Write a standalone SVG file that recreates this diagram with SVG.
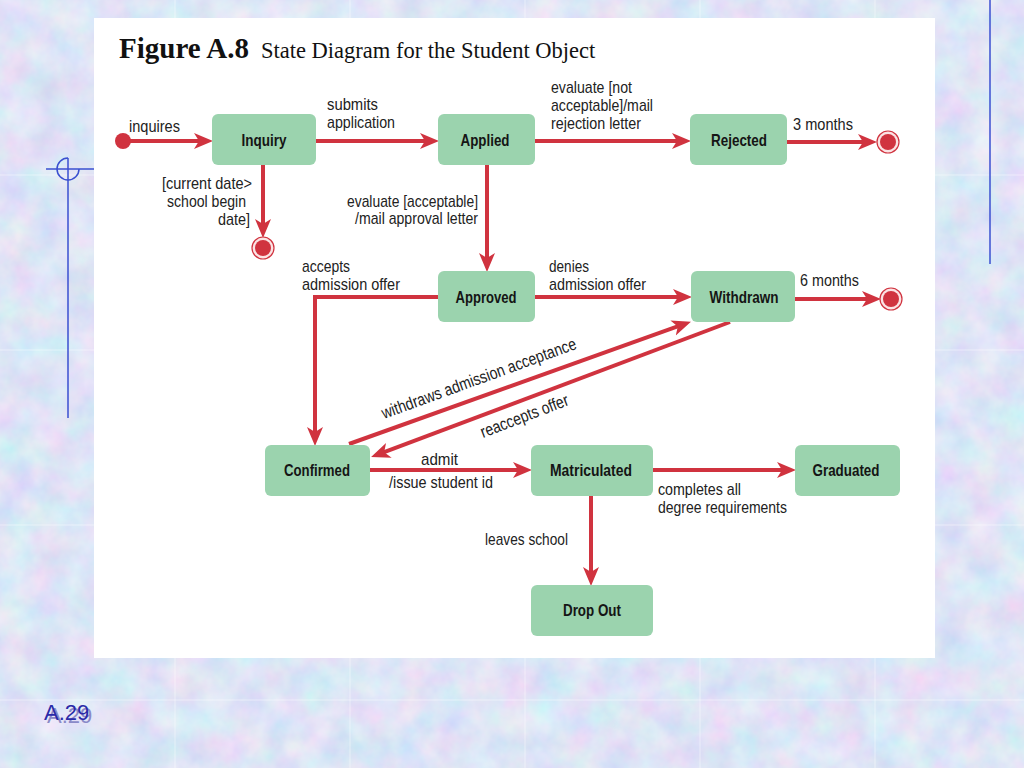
<svg xmlns="http://www.w3.org/2000/svg" width="1024" height="768" viewBox="0 0 1024 768">
<defs>
<filter id="tex" x="0" y="0" width="100%" height="100%">
<feTurbulence type="fractalNoise" baseFrequency="0.03" numOctaves="4" seed="7" result="n"/>
<feColorMatrix in="n" type="matrix" values="0.42 0 0 0 0.52  0 0.32 0 0 0.62  0 0 0.12 0 0.86  0 0 0 0 1"/>
</filter>
<marker id="ah" markerUnits="userSpaceOnUse" markerWidth="20" markerHeight="18" viewBox="0 0 20 18" refX="10" refY="9" orient="auto">
<path d="M0,1 L19,9 L0,17 L5,9 Z" fill="#d0333f"/>
</marker>
<style>
.node rect{fill:#9bd3ae;}
.node text{font-family:"Liberation Sans",Arial,sans-serif;font-weight:bold;font-size:16.5px;fill:#151515;text-anchor:middle;}
.lbl{font-family:"Liberation Sans",Arial,sans-serif;font-size:17px;fill:#222;}
.end{text-anchor:end;}
.edge{fill:none;stroke:#d0333f;stroke-width:4;}
.arr{marker-end:url(#ah);}
.fin-o{fill:#fbe3e4;stroke:#d0333f;stroke-width:1.2;}
.fin-i{fill:#d0333f;}
.deco{stroke:#3a4fd0;stroke-width:1.5;fill:none;}
</style>
</defs>
<rect x="0" y="0" width="1024" height="768" fill="#bccdf0"/>
<rect x="0" y="0" width="1024" height="768" filter="url(#tex)"/>
<g stroke="#ffffff" stroke-opacity="0.3" stroke-width="1.5">
<line x1="175" y1="0" x2="175" y2="768"/><line x1="350" y1="0" x2="350" y2="768"/><line x1="525" y1="0" x2="525" y2="768"/><line x1="700" y1="0" x2="700" y2="768"/><line x1="875" y1="0" x2="875" y2="768"/>
<line x1="0" y1="175" x2="1024" y2="175"/><line x1="0" y1="350" x2="1024" y2="350"/><line x1="0" y1="525" x2="1024" y2="525"/><line x1="0" y1="700" x2="1024" y2="700"/>
</g>
<g id="decoration">
<line class="deco" x1="68" y1="158" x2="68" y2="418"/>
<line class="deco" x1="46" y1="169" x2="96" y2="169"/>
<path class="deco" d="M68,158 A11,11 0 1,0 79,169"/>
<line class="deco" x1="990" y1="0" x2="990" y2="264"/>
</g>
<rect x="94" y="18" width="841" height="640" fill="#ffffff"/>
<g id="title">
<text x="119" y="58" font-family="'Liberation Serif','Times New Roman',serif" font-weight="bold" font-size="29" fill="#111">Figure A.8</text>
<text x="261" y="58" font-family="'Liberation Serif','Times New Roman',serif" font-size="22.5" fill="#111">State Diagram for the Student Object</text>
</g>
<g id="connectors">
<line class="edge arr" x1="123" y1="141" x2="204" y2="141"/>
<line class="edge arr" x1="316" y1="141" x2="430" y2="141"/>
<line class="edge arr" x1="535" y1="141" x2="682" y2="141"/>
<line class="edge arr" x1="787" y1="142" x2="868" y2="142"/>
<line class="edge arr" x1="263" y1="165" x2="263" y2="229"/>
<line class="edge arr" x1="487" y1="165" x2="487" y2="263"/>
<line class="edge arr" x1="535" y1="297" x2="683" y2="297"/>
<line class="edge arr" x1="795" y1="299" x2="872" y2="299"/>
<polyline class="edge arr" points="438,297 315,297 315,437"/>
<line class="edge arr" x1="349" y1="444" x2="682.5" y2="324.7"/>
<line class="edge arr" x1="730" y1="322" x2="379.5" y2="453.9"/>
<line class="edge arr" x1="370" y1="470" x2="523" y2="470"/>
<line class="edge arr" x1="653" y1="470" x2="787" y2="470"/>
<line class="edge arr" x1="591" y1="496" x2="591" y2="577"/>
</g>
<g id="labels">
<text class="lbl" x="129" y="132" textLength="51" lengthAdjust="spacingAndGlyphs">inquires</text>
<text class="lbl" x="327" y="110" textLength="51" lengthAdjust="spacingAndGlyphs">submits</text>
<text class="lbl" x="327" y="128" textLength="68" lengthAdjust="spacingAndGlyphs">application</text>
<text class="lbl" x="551" y="93" textLength="81" lengthAdjust="spacingAndGlyphs">evaluate [not</text>
<text class="lbl" x="551" y="111" textLength="102" lengthAdjust="spacingAndGlyphs">acceptable]/mail</text>
<text class="lbl" x="551" y="129" textLength="90" lengthAdjust="spacingAndGlyphs">rejection letter</text>
<text class="lbl" x="793" y="130" textLength="60" lengthAdjust="spacingAndGlyphs">3 months</text>
<text class="lbl end" x="252" y="189" textLength="90" lengthAdjust="spacingAndGlyphs">[current date&gt;</text>
<text class="lbl end" x="246" y="207" textLength="79" lengthAdjust="spacingAndGlyphs">school begin</text>
<text class="lbl end" x="250" y="225" textLength="32" lengthAdjust="spacingAndGlyphs">date]</text>
<text class="lbl end" x="478" y="207" textLength="131" lengthAdjust="spacingAndGlyphs">evaluate [acceptable]</text>
<text class="lbl end" x="478" y="224" textLength="123" lengthAdjust="spacingAndGlyphs">/mail approval letter</text>
<text class="lbl" x="302" y="272" textLength="48" lengthAdjust="spacingAndGlyphs">accepts</text>
<text class="lbl" x="302" y="290" textLength="98" lengthAdjust="spacingAndGlyphs">admission offer</text>
<text class="lbl" x="549" y="272" textLength="40" lengthAdjust="spacingAndGlyphs">denies</text>
<text class="lbl" x="549" y="290" textLength="97" lengthAdjust="spacingAndGlyphs">admission offer</text>
<text class="lbl" x="800" y="286" textLength="59" lengthAdjust="spacingAndGlyphs">6 months</text>
<text class="lbl" transform="translate(384,419) rotate(-20)" textLength="206" lengthAdjust="spacingAndGlyphs">withdraws admission acceptance</text>
<text class="lbl" transform="translate(483,438) rotate(-21)" textLength="93" lengthAdjust="spacingAndGlyphs">reaccepts offer</text>
<text class="lbl" x="421" y="465" textLength="37" lengthAdjust="spacingAndGlyphs">admit</text>
<text class="lbl" x="389" y="488" textLength="104" lengthAdjust="spacingAndGlyphs">/issue student id</text>
<text class="lbl" x="658" y="495" textLength="83" lengthAdjust="spacingAndGlyphs">completes all</text>
<text class="lbl" x="658" y="513" textLength="129" lengthAdjust="spacingAndGlyphs">degree requirements</text>
<text class="lbl" x="485" y="545" textLength="83" lengthAdjust="spacingAndGlyphs">leaves school</text>
</g>
<g id="initial"><circle cx="123" cy="141" r="8" fill="#d0333f"/></g>
<g id="final-inquiry"><circle class="fin-o" cx="263" cy="248" r="11"/><circle class="fin-i" cx="263" cy="248" r="8"/></g>
<g id="final-rejected"><circle class="fin-o" cx="888" cy="142" r="11"/><circle class="fin-i" cx="888" cy="142" r="8"/></g>
<g id="final-withdrawn"><circle class="fin-o" cx="891" cy="299" r="11"/><circle class="fin-i" cx="891" cy="299" r="8"/></g>
<g id="inquiry" class="node"><rect x="212" y="114" width="104" height="51" rx="6"/><text x="264" y="146" textLength="45" lengthAdjust="spacingAndGlyphs">Inquiry</text></g>
<g id="applied" class="node"><rect x="438" y="114" width="97" height="51" rx="6"/><text x="485" y="146" textLength="49" lengthAdjust="spacingAndGlyphs">Applied</text></g>
<g id="rejected" class="node"><rect x="690" y="114" width="97" height="51" rx="6"/><text x="739" y="146" textLength="56" lengthAdjust="spacingAndGlyphs">Rejected</text></g>
<g id="approved" class="node"><rect x="438" y="271" width="97" height="51" rx="6"/><text x="486" y="303" textLength="61" lengthAdjust="spacingAndGlyphs">Approved</text></g>
<g id="withdrawn" class="node"><rect x="691" y="271" width="104" height="51" rx="6"/><text x="744" y="303" textLength="69" lengthAdjust="spacingAndGlyphs">Withdrawn</text></g>
<g id="confirmed" class="node"><rect x="265" y="445" width="105" height="51" rx="6"/><text x="317" y="476" textLength="66" lengthAdjust="spacingAndGlyphs">Confirmed</text></g>
<g id="matriculated" class="node"><rect x="531" y="445" width="122" height="51" rx="6"/><text x="591" y="476" textLength="82" lengthAdjust="spacingAndGlyphs">Matriculated</text></g>
<g id="graduated" class="node"><rect x="795" y="445" width="105" height="51" rx="6"/><text x="846" y="476" textLength="67" lengthAdjust="spacingAndGlyphs">Graduated</text></g>
<g id="dropout" class="node"><rect x="531" y="585" width="122" height="51" rx="6"/><text x="592" y="616" textLength="58" lengthAdjust="spacingAndGlyphs">Drop Out</text></g>
<g id="page-number">
<text x="47" y="723" font-family="'Liberation Sans',Arial,sans-serif" font-size="22" fill="#8a8ac8">A.29</text>
<text x="44" y="720" font-family="'Liberation Sans',Arial,sans-serif" font-size="22" fill="#2a2aa8">A.29</text>
</g>
</svg>
